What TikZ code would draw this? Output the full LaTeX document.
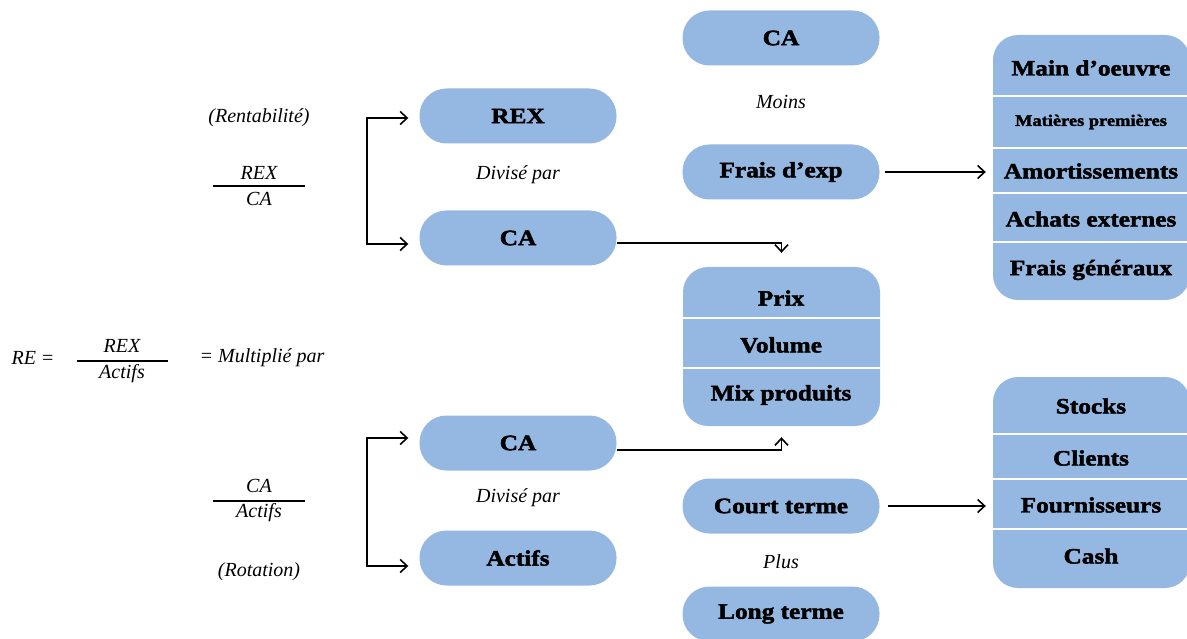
\documentclass[tikz,border=0pt]{standalone}
\usepackage{fontspec}
\setmainfont{Liberation Serif}
\newfontfamily\bfont[FakeStretch=1.15,FakeBold=2]{Liberation Serif}
\usetikzlibrary{arrows.meta,calc}
\definecolor{boxc}{RGB}{149,184,226}
\begin{document}
\begin{tikzpicture}[x=1pt,y=-1pt,
  pill/.style={fill=boxc,rounded corners=27pt,minimum width=197pt,minimum height=55pt,inner sep=0pt,font=\bfont\bfseries\fontsize{22}{25}\selectfont},
  stackbox/.style={fill=boxc,rounded corners=25pt,minimum width=197pt,inner sep=0pt},
  rowtxt/.style={inner sep=0pt,font=\bfont\bfseries\fontsize{22}{25}\selectfont},
  itx/.style={inner sep=0pt,font=\itshape\fontsize{20}{23}\selectfont},
  sep/.style={white,line width=2pt},
  arr/.style={line width=1.6pt,-{Straight Barb[length=7pt,width=13pt,line width=1.6pt]}},
  frac/.style={line width=1.2pt}]
\useasboundingbox (0,0) rectangle (1187,639);
% left formulas
\node[itx] (rent) at (259,118) {(Rentabilité)};
\node[itx] (f1n) at (259,173) {REX};
\draw[frac] (213,186) -- (305,186);
\node[itx] (f1d) at (259,199) {CA};
\node[itx] (re) at (33,358) {RE =};
\node[itx] (f2n) at (122,346) {REX};
\draw[frac] (77,361) -- (168,361);
\node[itx] (f2d) at (122,374) {Actifs};
\node[itx] (mult) at (262,358) {= Multiplié par};
\node[itx] (f3n) at (259,486) {CA};
\draw[frac] (213,501) -- (305,501);
\node[itx] (f3d) at (259,513) {Actifs};
\node[itx] (rot) at (259,572) {(Rotation)};
% second column
\node[pill] (rex) at (518,116) {REX};
\node[itx] (div1) at (518,175) {Divisé par};
\node[pill] (ca1) at (518,238) {CA};
\node[pill] (ca2) at (518,443) {CA};
\node[itx] (div2) at (518,498) {Divisé par};
\node[pill] (act) at (518,558) {Actifs};
\coordinate (b1) at (367,180);
\coordinate (b2) at (367,502);
\draw[arr] (b1) |- ([xshift=-11pt,yshift=-2pt]rex.west);
\draw[arr] (b1) |- ([xshift=-11pt,yshift=-6pt]ca1.west);
\draw[arr] (b2) |- ([xshift=-11pt,yshift=5pt]ca2.west);
\draw[arr] (b2) |- ([xshift=-11pt,yshift=-8pt]act.west);
% third column
\node[pill] (ca0) at (781,38) {CA};
\node[itx] (moins) at (781,102) {Moins};
\node[pill] (frais) at (781,172) {Frais d’exp};
\node[stackbox,minimum height=159pt] (pv) at (781.5,346.5) {};
\draw[sep] (683,318) -- (880,318);
\draw[sep] (683,368) -- (880,368);
\node[rowtxt] (prix) at (781,298) {Prix};
\node[rowtxt] (vol) at (781,345) {Volume};
\node[rowtxt] (mix) at (781,395) {Mix produits};
\node[pill] (ct) at (781,506) {Court terme};
\node[itx] (plus) at (781,562) {Plus};
\node[pill] (lt) at (781,614) {Long terme};
\draw[arr] ([yshift=-5pt]ca1.east) -| ([yshift=14pt]pv.north);
\draw[arr] ([yshift=-7pt]ca2.east) -| ([yshift=-11pt]pv.south);
% right stacks
\node[stackbox,minimum height=265pt] (st1) at (1091.5,167.5) {};
\draw[sep] (993,96) -- (1190,96);
\draw[sep] (993,148) -- (1190,148);
\draw[sep] (993,193) -- (1190,193);
\draw[sep] (993,242) -- (1190,242);
\node[rowtxt] (mo) at (1091,68) {Main d’oeuvre};
\node[rowtxt,font=\bfont\bfseries\fontsize{16}{19}\selectfont] (mp) at (1091,122) {Matières premières};
\node[rowtxt] (am) at (1091,171) {Amortissements};
\node[rowtxt] (ae) at (1091,219) {Achats externes};
\node[rowtxt] (fg) at (1091,270) {Frais généraux};
\node[stackbox,minimum height=211pt] (st2) at (1091.5,482.5) {};
\draw[sep] (993,434) -- (1190,434);
\draw[sep] (993,479) -- (1190,479);
\draw[sep] (993,529) -- (1190,529);
\node[rowtxt] (sto) at (1091,406) {Stocks};
\node[rowtxt] (cli) at (1091,458) {Clients};
\node[rowtxt] (fou) at (1091,505) {Fournisseurs};
\node[rowtxt] (cash) at (1091,556) {Cash};
\draw[arr] ([xshift=5pt]frais.east) -- ([xshift=-7pt]frais.east -| st1.west);
\draw[arr] ([xshift=8pt]ct.east) -- ([xshift=-7pt]ct.east -| st2.west);
\end{tikzpicture}
\end{document}
